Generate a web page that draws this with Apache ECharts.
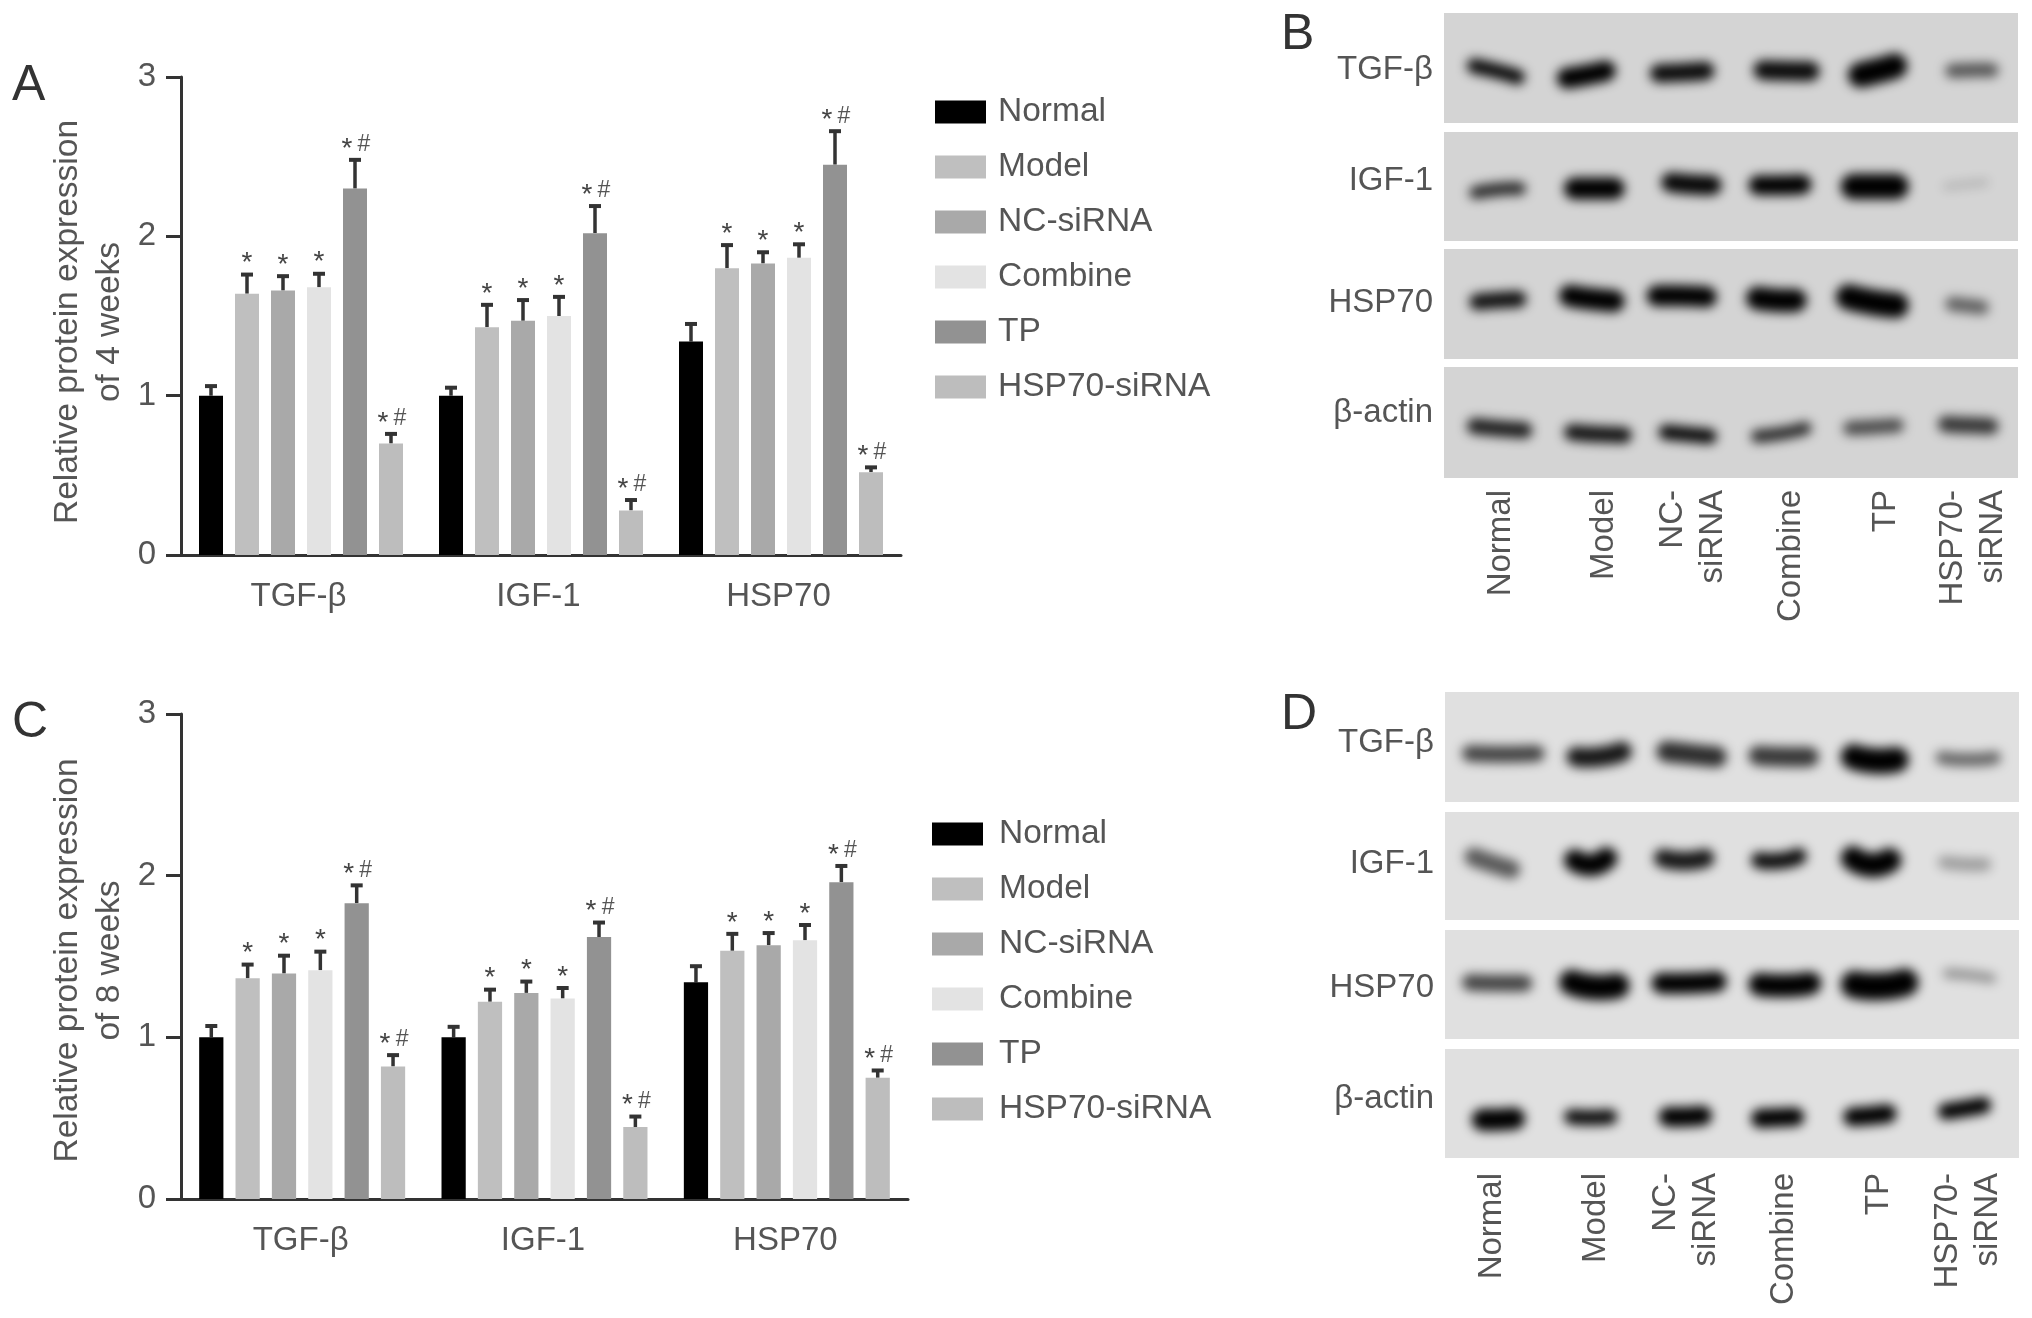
<!DOCTYPE html>
<html>
<head>
<meta charset="utf-8">
<title>Relative protein expression</title>
<script src="https://cdn.jsdelivr.net/npm/echarts@6/dist/echarts.min.js"></script>
<style>
  html, body { margin: 0; padding: 0; background: #fff; }
  #chart { width: 2032px; height: 1318px; }
</style>
</head>
<body>
<div id="chart"></div>
<script>
const proteins = ['TGF-β', 'IGF-1', 'HSP70']
const groups = ['Normal', 'Model', 'NC-siRNA', 'Combine', 'TP', 'HSP70-siRNA']
const groupColors = ['#000000', '#bfbfbf', '#a9a9a9', '#e3e3e3', '#929292', '#bdbdbd']
const yTicks = [0, 1, 2, 3]

// bar heights, one row per group, one column per protein
const values4 = [
  [1.0, 1.0, 1.34],
  [1.64, 1.43, 1.8],
  [1.66, 1.47, 1.83],
  [1.68, 1.5, 1.865],
  [2.3, 2.02, 2.45],
  [0.7, 0.28, 0.52]
]
// top of the error bars
const errors4 = [
  [1.06, 1.05, 1.45],
  [1.76, 1.57, 1.945],
  [1.75, 1.6, 1.9],
  [1.765, 1.62, 1.95],
  [2.48, 2.19, 2.66],
  [0.76, 0.345, 0.55]
]
const values8 = [
  [1.0, 1.0, 1.34],
  [1.365, 1.22, 1.535],
  [1.395, 1.275, 1.57],
  [1.415, 1.24, 1.6],
  [1.83, 1.62, 1.96],
  [0.82, 0.445, 0.75]
]
const errors8 = [
  [1.07, 1.065, 1.44],
  [1.45, 1.295, 1.64],
  [1.505, 1.345, 1.645],
  [1.53, 1.305, 1.695],
  [1.94, 1.71, 2.06],
  [0.89, 0.51, 0.795]
]
const starMarks = ['', '*', '*', '*', '*', '*']
const hashMarks = ['', '', '', '', '#', '#']

// blots: rows and lanes
const blotRows = ['TGF-β', 'IGF-1', 'HSP70', 'β-actin']
const laneNames = ['Normal', 'Model', 'NC-\nsiRNA', 'Combine', 'TP', 'HSP70-\nsiRNA']
const lanePosB = [476, 688, 870, 1073, 1268, 1448]
const lanePosD = [457, 670, 856, 1057, 1254, 1436]
const rowLabelPosB = [169, 442, 740, 1008]
const rowLabelPosD = [154, 450, 754, 1025]
const rowRangeB = [[30, 300], [322, 588], [608, 876], [895, 1167]]
const rowRangeD = [[30, 298], [322, 586], [612, 878], [903, 1168]]
const laneRangeB = [358, 1540]
const laneRangeD = [360, 1542]

// one band: left, right, y left, y middle, y right, thickness, darkness
const bandsB = [
  [
    [405, 525, 160, 172, 187, 28, 0.95], [590, 712, 190, 182, 172, 38, 1], [782, 915, 178, 176, 172, 34, 0.95],
    [995, 1132, 170, 172, 173, 36, 0.95], [1190, 1312, 182, 172, 160, 46, 1], [1390, 1500, 172, 170, 170, 26, 0.6]
  ],
  [
    [410, 527, 470, 462, 460, 24, 0.8], [605, 730, 460, 460, 460, 40, 1], [805, 930, 445, 450, 452, 36, 0.97],
    [985, 1115, 452, 452, 450, 36, 1], [1175, 1315, 455, 455, 455, 46, 1], [1385, 1480, 455, 450, 445, 14, 0.15]
  ],
  [
    [410, 528, 737, 733, 730, 30, 0.92], [595, 730, 722, 730, 735, 40, 1], [775, 920, 722, 722, 725, 38, 1],
    [980, 1105, 728, 733, 733, 42, 1], [1165, 1315, 725, 738, 745, 46, 1], [1390, 1480, 742, 746, 750, 26, 0.55]
  ],
  [
    [405, 540, 1040, 1046, 1050, 30, 0.85], [605, 745, 1055, 1060, 1062, 30, 0.9], [800, 920, 1055, 1060, 1065, 28, 0.95],
    [990, 1115, 1065, 1058, 1045, 24, 0.8], [1180, 1305, 1045, 1042, 1038, 26, 0.65], [1375, 1500, 1035, 1038, 1040, 30, 0.75]
  ]
]
const bandsD = [
  [
    [395, 565, 180, 182, 180, 30, 0.7], [610, 745, 188, 188, 175, 36, 0.9], [795, 940, 175, 182, 188, 38, 0.8],
    [985, 1130, 185, 188, 188, 36, 0.75], [1175, 1315, 188, 198, 195, 46, 1], [1370, 1505, 190, 195, 190, 24, 0.55]
  ],
  [
    [400, 515, 432, 448, 462, 34, 0.6], [605, 715, 440, 452, 435, 40, 1], [790, 915, 435, 442, 435, 34, 0.9],
    [990, 1105, 440, 442, 430, 30, 0.95], [1175, 1300, 435, 452, 440, 44, 1], [1375, 1485, 445, 450, 450, 24, 0.3]
  ],
  [
    [395, 540, 740, 742, 742, 30, 0.7], [595, 740, 740, 752, 748, 46, 1], [785, 940, 742, 742, 738, 38, 1],
    [985, 1135, 745, 748, 742, 42, 1], [1175, 1335, 745, 750, 740, 50, 1], [1385, 1495, 718, 722, 730, 18, 0.35]
  ],
  [
    [415, 525, 1075, 1075, 1072, 40, 1], [605, 715, 1068, 1070, 1068, 28, 0.95], [800, 910, 1068, 1068, 1065, 36, 1],
    [990, 1100, 1072, 1070, 1068, 34, 1], [1180, 1290, 1068, 1065, 1060, 34, 1], [1375, 1485, 1055, 1048, 1040, 30, 1]
  ]
]

const fontName = '"Liberation Sans", Arial, sans-serif'
const textColor = '#555'
const axisColor = '#333'
const labelSize = 33

const myChart = echarts.init(document.getElementById('chart'))

const grid = []
const xAxis = []
const yAxis = []
const series = []
const legend = []

// 误差线和显著性标记
function errorItem (params, api) {
  const protein = api.value(0)
  const group = api.value(1)
  const band = api.size([1, 0])[0]
  const step = band * 0.15
  const x = api.coord([protein, 0])[0] + (group - 2.5) * step
  const yBar = api.coord([protein, api.value(2)])[1]
  const yTop = api.coord([protein, api.value(3)])[1]
  const children = [
    { type: 'line', shape: { x1: x, y1: yBar, x2: x, y2: yTop }, style: { stroke: axisColor, lineWidth: 3.5 } },
    { type: 'line', shape: { x1: x - 6, y1: yTop, x2: x + 6, y2: yTop }, style: { stroke: axisColor, lineWidth: 4 } }
  ]
  const star = starMarks[group]
  const hash = hashMarks[group]
  if (star) {
    children.push({
      type: 'text',
      x: hash ? x - 8 : x,
      y: yTop - 11,
      style: { text: star, font: '28px ' + fontName, fill: '#444', align: 'center', verticalAlign: 'middle' }
    })
  }
  if (hash) {
    children.push({
      type: 'text',
      x: x + 9,
      y: yTop - 15,
      style: { text: hash, font: '23px ' + fontName, fill: '#555', align: 'center', verticalAlign: 'middle' }
    })
  }
  return { type: 'group', children: children }
}

// 条带：把线画到画布外，只留下模糊的阴影
function bandItem (params, api) {
  const offset = 4000
  const thick = api.size([0, api.value(5)])[1] * 1.35
  const left = api.coord([api.value(0), api.value(2)])
  const mid = api.coord([(api.value(0) + api.value(1)) / 2, api.value(3)])
  const right = api.coord([api.value(1), api.value(4)])
  return {
    type: 'polyline',
    shape: {
      points: [
        [left[0] + thick / 2 - offset, left[1]],
        [mid[0] - offset, mid[1]],
        [right[0] - thick / 2 - offset, right[1]]
      ],
      smooth: 0.6
    },
    style: {
      fill: null,
      stroke: '#000',
      lineWidth: thick,
      lineCap: 'round',
      shadowBlur: 11,
      shadowOffsetX: offset,
      shadowColor: 'rgba(0,0,0,' + api.value(6) + ')'
    }
  }
}

function addBarPanel (box, legendPos, values, errors, weeksText, nameShift, labelShift) {
  const index = grid.length
  grid.push(box)
  xAxis.push({
    type: 'category',
    gridIndex: index,
    data: proteins,
    axisLine: { lineStyle: { color: axisColor, width: 3 } },
    axisTick: { alignWithLabel: true, length: 15, lineStyle: { color: axisColor, width: 3 } },
    axisLabel: {
      color: textColor,
      fontSize: labelSize,
      fontFamily: fontName,
      margin: 25,
      padding: [0, labelShift, 0, 0]
    }
  })
  yAxis.push({
    type: 'value',
    gridIndex: index,
    min: 0,
    max: 3,
    interval: 1,
    name: 'Relative protein expression\nof ' + weeksText,
    nameLocation: 'middle',
    nameRotate: 90,
    nameGap: 50,
    nameTextStyle: {
      color: textColor,
      fontSize: 33.5,
      fontFamily: fontName,
      lineHeight: 42,
      padding: [0, nameShift, 0, 0]
    },
    axisLine: { show: true, lineStyle: { color: axisColor, width: 3 } },
    axisTick: { show: true, length: 15, lineStyle: { color: axisColor, width: 3 } },
    axisLabel: {
      color: textColor,
      fontSize: labelSize,
      fontFamily: fontName,
      margin: 25,
      customValues: yTicks
    },
    splitLine: { show: false }
  })
  groups.forEach(function (name, g) {
    series.push({
      name: name,
      type: 'bar',
      xAxisIndex: index,
      yAxisIndex: index,
      barWidth: '10%',
      barGap: '50%',
      itemStyle: { color: groupColors[g] },
      silent: true,
      animation: false,
      data: values[g]
    })
  })
  const errorData = []
  groups.forEach(function (name, g) {
    proteins.forEach(function (p, i) {
      errorData.push([i, g, values[g][i], errors[g][i]])
    })
  })
  series.push({
    name: 'error' + index,
    type: 'custom',
    xAxisIndex: index,
    yAxisIndex: index,
    silent: true,
    animation: false,
    encode: { x: 0, y: 3 },
    renderItem: errorItem,
    data: errorData
  })
  legend.push({
    data: groups,
    orient: 'vertical',
    left: legendPos.left,
    top: legendPos.top,
    icon: 'rect',
    itemWidth: 51,
    itemHeight: 23,
    itemGap: 21,
    selectedMode: false,
    textStyle: {
      color: textColor,
      fontSize: 33.5,
      fontFamily: fontName,
      lineHeight: 32,
      padding: [0, 0, 0, legendPos.gap]
    }
  })
}

function addBlot (left, width, tops, heights, background, laneRange, rowRange, lanePos, labelPos, bands, laneMargin) {
  blotRows.forEach(function (rowName, r) {
    const index = grid.length
    const last = r === blotRows.length - 1
    grid.push({ left: left, top: tops[r], width: width, height: heights[r], show: true, backgroundColor: background, borderWidth: 0 })
    xAxis.push({
      type: 'value',
      gridIndex: index,
      min: laneRange[0],
      max: laneRange[1],
      axisLine: { show: false },
      axisTick: { show: false },
      splitLine: { show: false },
      axisLabel: {
        show: last,
        rotate: 90,
        align: 'right',
        verticalAlign: 'middle',
        margin: laneMargin,
        color: textColor,
        fontSize: labelSize,
        fontFamily: fontName,
        lineHeight: 40,
        customValues: lanePos,
        formatter: function (v) { return laneNames[lanePos.indexOf(v)] }
      }
    })
    yAxis.push({
      type: 'value',
      gridIndex: index,
      inverse: true,
      min: rowRange[r][0],
      max: rowRange[r][1],
      axisLine: { show: false },
      axisTick: { show: false },
      splitLine: { show: false },
      axisLabel: {
        margin: 11,
        color: textColor,
        fontSize: labelSize,
        fontFamily: fontName,
        customValues: [labelPos[r]],
        formatter: function () { return rowName }
      }
    })
    series.push({
      name: 'band' + index,
      type: 'custom',
      xAxisIndex: index,
      yAxisIndex: index,
      silent: true,
      animation: false,
      clip: false,
      encode: { x: [0, 1], y: [2, 3, 4] },
      renderItem: bandItem,
      data: bands[r]
    })
  })
}

addBarPanel({ left: 181, top: 77, width: 720, height: 478 }, { left: 930, top: 90, gap: 7 }, values4, errors4, '4 weeks', 12, 5)
addBarPanel({ left: 181, top: 714, width: 727, height: 485 }, { left: 927, top: 812, gap: 11 }, values8, errors8, '8 weeks', 8, 3)
addBlot(1444, 574, [13, 132, 249, 367], [110, 109, 110, 111], '#d4d4d4', laneRangeB, rowRangeB, lanePosB, rowLabelPosB, bandsB, 12)
addBlot(1445, 574, [692, 812, 930, 1049], [110, 108, 109, 109], '#e0e0e0', laneRangeD, rowRangeD, lanePosD, rowLabelPosD, bandsD, 15)

function panelLetter (text, x, y) {
  return { type: 'text', x: x, y: y, style: { text: text, font: '50px ' + fontName, fill: '#333' } }
}

myChart.setOption({
  animation: false,
  backgroundColor: '#fff',
  textStyle: { fontFamily: fontName },
  tooltip: { show: false },
  grid: grid,
  xAxis: xAxis,
  yAxis: yAxis,
  legend: legend,
  series: series,
  graphic: [
    panelLetter('A', 12, 61),
    panelLetter('B', 1281, 10),
    panelLetter('C', 12, 698),
    panelLetter('D', 1281, 690)
  ]
})
</script>
</body>
</html>
